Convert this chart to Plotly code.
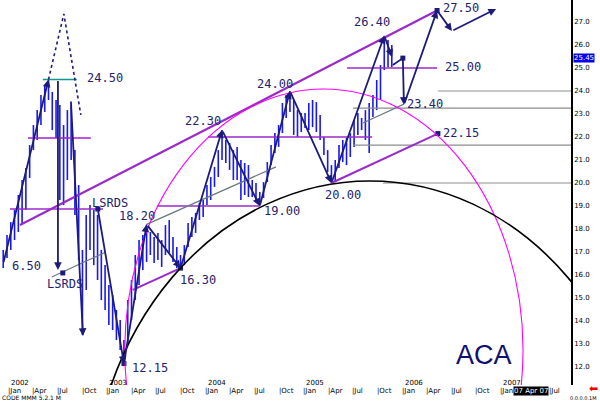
import plotly.graph_objects as go
import pandas as pd

# ---------------- data ----------------
bar_start = "2001-12-14"          # bi-weekly bars
highs = [17.09, 17.74, 18.30, 18.83, 19.48, 20.13, 20.65, 21.65, 22.52, 23.17,
         23.83, 24.26, 24.50, 23.96, 23.61, 23.39, 22.52, 23.17, 23.39, 21.43,
         19.91, 17.09, 18.61, 19.04, 18.83, 18.61, 17.09, 16.43, 15.57, 15.13,
         14.48, 14.04, 13.17, 14.91, 15.78, 16.87, 17.52, 17.74, 18.20, 17.87,
         17.65, 17.83, 17.52, 18.17, 18.39, 17.65, 17.22, 16.87, 17.30, 18.26,
         18.52, 18.70, 19.13, 19.26, 19.91, 20.26, 20.70, 21.43, 22.30, 21.87,
         21.74, 21.43, 21.57, 21.00, 20.87, 20.78, 20.13, 20.00, 19.61, 20.04,
         20.91, 21.65, 22.17, 22.52, 23.48, 23.83, 24.00, 23.61, 23.17, 23.04,
         23.04, 23.48, 23.61, 23.52, 22.96, 22.00, 21.43, 20.78, 21.00, 21.65,
         21.87, 21.96, 22.17, 22.74, 23.04, 22.83, 23.17, 23.48, 23.83, 24.48,
         25.13, 26.40, 26.22, 26.00]
lows = [16.30, 16.74, 17.09, 17.52, 17.87, 18.17, 18.83, 20.22, 21.43, 21.87,
        22.52, 23.09, 23.61, 22.30, 21.96, 19.26, 19.04, 20.13, 21.00, 18.61,
        16.65, 13.39, 15.35, 17.09, 16.43, 15.78, 14.91, 14.48, 13.83, 13.61,
        13.17, 12.74, 12.15, 12.96, 14.04, 14.91, 15.57, 16.22, 16.57, 16.87,
        16.52, 16.65, 16.35, 16.87, 16.96, 16.57, 16.30, 16.30, 16.43, 17.22,
        17.65, 17.83, 18.39, 18.52, 19.04, 19.26, 19.83, 20.26, 21.00, 20.87,
        20.57, 20.13, 20.13, 19.26, 19.48, 19.39, 19.39, 19.26, 19.00, 19.35,
        20.04, 20.78, 21.30, 21.57, 22.17, 22.83, 23.09, 22.09, 22.00, 22.22,
        22.39, 22.30, 22.43, 22.22, 21.87, 21.22, 20.48, 20.00, 20.04, 20.65,
        20.91, 20.78, 21.13, 21.57, 22.09, 22.30, 21.87, 21.30, 22.87, 23.17,
        23.61, 24.91, 25.04, 25.04]
bar_dates = pd.date_range(bar_start, periods=len(highs), freq="14D")

# zigzag (arrowed) wave count
zz_dates = ["2002-11-30", "2003-03-07", "2003-05-30", "2003-10-03", "2004-03-05",
            "2004-07-23", "2004-11-12", "2005-04-15", "2005-10-28", "2005-11-26"]
zz_prices = [18.87, 12.15, 18.20, 16.30, 22.30, 19.00, 24.00, 20.00, 26.40, 25.48]

# early arrows
early_from_dates = ["2001-12-14", "2002-07-05", "2002-08-22"]
early_from_prices = [16.50, 24.50, 23.61]
early_to_dates = ["2002-05-31", "2002-07-05", "2002-10-06"]
early_to_prices = [24.50, 16.22, 13.35]

# projection path
proj_dates = ["2006-01-05", "2006-01-09", "2006-05-12", "2006-07-06", "2006-12-17"]
proj_prices = [25.43, 23.40, 27.50, 26.61, 27.57]
proj_link_dates = ["2005-11-29", "2006-01-05"]
proj_link_prices = [25.13, 25.43]

# dotted early projection
dot_dates = ["2002-05-31", "2002-07-27", "2002-09-28"]
dot_prices = [24.50, 27.35, 22.96]

# channel / trend lines
upper_ch_dates = ["2002-02-14", "2006-05-12"]
upper_ch_prices = [18.17, 27.50]
lower1_dates = ["2003-04-09", "2003-10-03"]
lower1_prices = [15.35, 16.30]
lower2_dates = ["2005-04-15", "2006-05-15"]
lower2_prices = [20.00, 22.15]
gray1_dates = ["2002-06-12", "2002-12-30"]
gray1_prices = [15.91, 17.00]
gray2_dates = ["2003-05-30", "2004-09-21"]
gray2_prices = [18.20, 20.70]
gray3_dates = ["2005-08-10", "2006-01-09"]
gray3_prices = [22.61, 23.43]

# horizontal levels: (start, end, price)
purple_levels = [("2002-01-08", "2002-12-19", 18.87),
                 ("2003-07-07", "2004-07-23", 19.00),
                 ("2004-01-13", "2005-09-13", 22.00),
                 ("2005-06-12", "2006-05-12", 25.00)]
magenta_level = ("2002-03-16", "2002-11-04", 21.96)
teal_level = ("2002-05-10", "2002-09-13", 24.50)
gray_levels = [("2006-05-16", 24.00), ("2005-07-04", 23.26),
               ("2005-07-04", 21.65), ("2005-10-23", 20.00)]

# arcs (ellipse bounding boxes)
magenta_arc = ("2003-03-10", "2007-03-27", 1.39, 24.09)
black_arc = ("2002-11-01", "2008-07-10", -8.61, 20.09)

# marked points
pt_dates = ["2002-11-30", "2003-03-07", "2003-10-03", "2006-05-15", "2006-05-12",
            "2002-07-23", "2006-01-05"]
pt_prices = [18.87, 12.15, 16.30, 22.15, 27.50, 16.09, 25.43]

# price labels
lab_text = ["24.50", "22.30", "24.00", "26.40", "27.50", "25.00", "23.40", "22.15",
            "20.00", "19.00", "18.20", "16.30", "12.15", "6.50", "LSRDS", "LSRDS"]
lab_dates = ["2002-10-14", "2003-10-12", "2004-07-05", "2005-06-30", "2006-05-27",
             "2006-06-03", "2006-01-13", "2006-05-27", "2005-03-15", "2004-07-31",
             "2003-02-09", "2003-09-23", "2003-03-29", "2002-01-08", "2002-10-31",
             "2002-05-17"]
lab_prices = [24.57, 22.70, 24.30, 27.00, 27.61, 25.04, 23.43, 22.17,
              19.48, 18.78, 18.57, 15.78, 11.96, 16.39, 19.13, 15.61]

y_ticks = list(range(12, 28))
x_range = ["2001-12-02", "2007-09-21"]
y_range = [11.218, 27.957]
quarter_ticks = pd.date_range("2002-01-01", "2007-07-01", freq="QS")
month_names = {1: "Jan", 4: "Apr", 7: "Jul", 10: "Oct"}
cursor_date_text = "07 Apr 07"

# ---------------- styles ----------------
NAVY = "#1c1c78"
BLUE = "#1818f0"
PURPLE = "#9a2bc8"
MAGENTA = "#ff00ff"
GRAY = "#8c8c8c"
SLATE = "#6a7a80"
TXT = "#1f2470"
LABEL_FONT = dict(family="DejaVu Sans Mono", size=12, color=TXT)

fig = go.Figure()

def line(xs, ys, color, width=1.0, dash=None):
    fig.add_trace(go.Scatter(x=xs, y=ys, mode="lines",
                             line=dict(color=color, width=width, dash=dash),
                             hoverinfo="skip", showlegend=False))

# price bars
bx, by = [], []
for d, h, l in zip(bar_dates, highs, lows):
    bx += [d, d, None]
    by += [l, h, None]
fig.add_trace(go.Scatter(x=bx, y=by, mode="lines", line=dict(color=BLUE, width=1.6),
                         hoverinfo="skip", showlegend=False))

# horizontals
for s, e, p in purple_levels:
    line([s, e], [p, p], PURPLE, 1.6)
line([magenta_level[0], magenta_level[1]], [magenta_level[2]] * 2, "#a41fd0", 1.6)
line([teal_level[0], teal_level[1]], [teal_level[2]] * 2, "#10988a", 1.6)
for s, p in gray_levels:
    line([s, x_range[1]], [p, p], GRAY, 1.2)

# trend lines
line(upper_ch_dates, upper_ch_prices, PURPLE, 2.2)
line(lower1_dates, lower1_prices, PURPLE, 2.0)
line(lower2_dates, lower2_prices, PURPLE, 2.0)
line(gray1_dates, gray1_prices, SLATE, 1.2)
line(gray2_dates, gray2_prices, SLATE, 1.3)
line(gray3_dates, gray3_prices, SLATE, 1.2)
line(dot_dates, dot_prices, NAVY, 1.6, "dot")
line(proj_link_dates, proj_link_prices, NAVY, 1.8)

# arcs
fig.add_shape(type="circle", xref="x", yref="y",
              x0=magenta_arc[0], x1=magenta_arc[1], y0=magenta_arc[2], y1=magenta_arc[3],
              line=dict(color=MAGENTA, width=1.1))
fig.add_shape(type="circle", xref="x", yref="y",
              x0=black_arc[0], x1=black_arc[1], y0=black_arc[2], y1=black_arc[3],
              line=dict(color="black", width=1.6))

# points
fig.add_trace(go.Scatter(x=pt_dates, y=pt_prices, mode="markers",
                         marker=dict(color=NAVY, size=5, symbol="square"),
                         hoverinfo="skip", showlegend=False))

# arrows
def arrow(x0, y0, x1, y1):
    fig.add_annotation(x=x1, y=y1, ax=x0, ay=y0, xref="x", yref="y",
                       axref="x", ayref="y", text="", showarrow=True,
                       arrowhead=2, arrowsize=0.85, arrowwidth=1.8,
                       arrowcolor=NAVY, standoff=0)

for i in range(len(zz_dates) - 1):
    arrow(zz_dates[i], zz_prices[i], zz_dates[i + 1], zz_prices[i + 1])
for a, b, c, d in zip(early_from_dates, early_from_prices, early_to_dates, early_to_prices):
    arrow(a, b, c, d)
for i in range(len(proj_dates) - 1):
    arrow(proj_dates[i], proj_prices[i], proj_dates[i + 1], proj_prices[i + 1])

# labels
for t, d, p in zip(lab_text, lab_dates, lab_prices):
    fig.add_annotation(x=d, y=p, text=t, showarrow=False, xanchor="left",
                       yanchor="middle", font=LABEL_FONT)

fig.add_annotation(x="2006-07-14", y=12.52, text="ACA", showarrow=False,
                   xanchor="left", yanchor="middle",
                   font=dict(family="Liberation Sans", size=27, color="#101070"))

# x axis labels (annotations)
for q in quarter_ticks:
    if q.year == 2007 and q.month == 4:
        continue  # hidden under the cursor date box
    fig.add_annotation(x=q, y=0, xref="x", yref="paper", text="|" + month_names[q.month],
                       showarrow=False, xanchor="left", yanchor="middle", yshift=-6,
                       xshift=-2, font=dict(family="DejaVu Sans", size=7, color="black"))
    if q.month == 1:
        fig.add_annotation(x=q, y=0, xref="x", yref="paper", text=str(q.year),
                           showarrow=False, xanchor="left", yanchor="middle", yshift=2,
                           xshift=1, font=dict(family="DejaVu Sans", size=7, color="black"))

# current price box, misc footer text
fig.add_annotation(x=1, y=25.45, xref="paper", yref="y", text="25.45", showarrow=False,
                   xanchor="left", yanchor="middle", bgcolor="#0000ee", xshift=2,
                   font=dict(family="DejaVu Sans", size=7, color="white"), borderpad=0)
fig.add_annotation(x="2007-02-19", y=0, xref="x", yref="paper", text=cursor_date_text,
                   showarrow=False, xanchor="left", yanchor="middle", yshift=-6,
                   bgcolor="black", font=dict(family="DejaVu Sans", size=7, color="white"),
                   borderpad=0)
fig.add_annotation(x=0, y=0, xref="paper", yref="paper", text="CODE MMM 5.2.1 M",
                   showarrow=False, xanchor="left", yanchor="bottom", yshift=-18,
                   font=dict(family="DejaVu Sans", size=6, color="black"))
fig.add_annotation(x=1, y=0, xref="paper", yref="paper", text="0.0.0.0.1M",
                   showarrow=False, xanchor="right", yanchor="bottom", yshift=-18, xshift=28,
                   font=dict(family="DejaVu Sans", size=5, color="black"))
fig.add_annotation(x=1, y=0, xref="paper", yref="paper", text="\u2b05",
                   showarrow=False, xanchor="left", yanchor="middle", yshift=-3, xshift=16,
                   font=dict(family="DejaVu Sans", size=11, color="#ee0000"))

fig.update_layout(
    width=600, height=403,
    margin=dict(l=0, r=29, t=0, b=18),
    paper_bgcolor="white", plot_bgcolor="white",
    showlegend=False,
    xaxis=dict(type="date", range=x_range, showticklabels=False, showgrid=False,
               zeroline=False, showline=False, ticks=""),
    yaxis=dict(side="right", range=y_range, tickvals=y_ticks,
               ticktext=[f"{v:.1f}" for v in y_ticks],
               tickfont=dict(family="DejaVu Sans", size=7, color="black"),
               showgrid=False, zeroline=False, showline=True, linecolor="black",
               linewidth=1.5, ticks="", automargin=False),
)

fig.write_html("out.html", config={"displayModeBar": False},
               post_script="document.body.style.margin='0';document.body.style.overflow='hidden';")
